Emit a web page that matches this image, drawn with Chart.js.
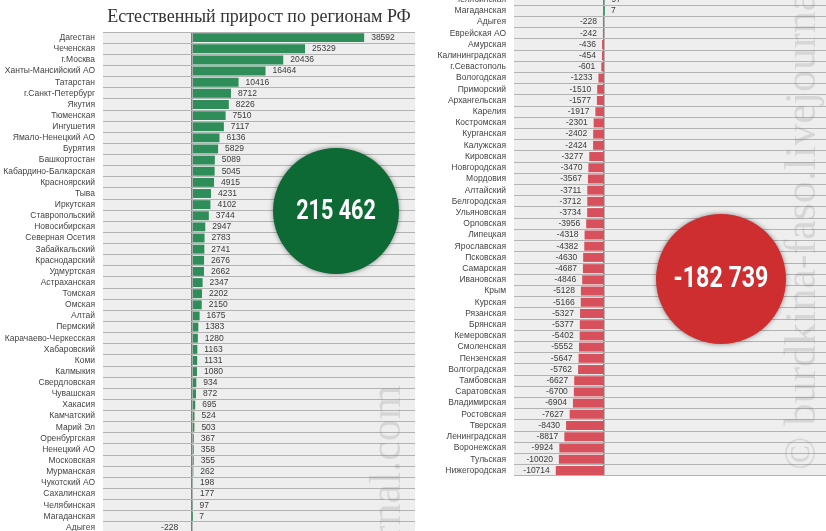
<!DOCTYPE html>
<html><head><meta charset="utf-8">
<script src="https://cdn.jsdelivr.net/npm/chart.js@4.4.1/dist/chart.umd.min.js"></script>
<style>
html,body{margin:0;padding:0;background:#fff;overflow:hidden;width:826px;height:531px;}
#wrap{position:relative;width:826px;height:531px;overflow:hidden;background:#fff;}
#c1{position:absolute;left:0;top:0;width:415px;height:533px;}
#c2{position:absolute;left:411px;top:-6px;width:418px;height:482px;}
</style></head><body>
<div id="wrap">
<canvas id="c1" width="415" height="533"></canvas>
<canvas id="c2" width="418" height="482"></canvas>
</div>
<script>
// ---------- DATA ----------
const chartTitle = 'Естественный прирост по регионам РФ';
const regions = [
 'Дагестан','Чеченская','г.Москва','Ханты-Мансийский АО','Татарстан','г.Санкт-Петербург','Якутия','Тюменская','Ингушетия','Ямало-Ненецкий АО',
 'Бурятия','Башкортостан','Кабардино-Балкарская','Красноярский','Тыва','Иркутская','Ставропольский','Новосибирская','Северная Осетия','Забайкальский',
 'Краснодарский','Удмуртская','Астраханская','Томская','Омская','Алтай','Пермский','Карачаево-Черкесская','Хабаровский','Коми',
 'Калмыкия','Свердловская','Чувашская','Хакасия','Камчатский','Марий Эл','Оренбургская','Ненецкий АО','Московская','Мурманская',
 'Чукотский АО','Сахалинская','Челябинская','Магаданская','Адыгея','Еврейская АО','Амурская','Калининградская','г.Севастополь','Вологодская',
 'Приморский','Архангельская','Карелия','Костромская','Курганская','Калужская','Кировская','Новгородская','Мордовия','Алтайский',
 'Белгородская','Ульяновская','Орловская','Липецкая','Ярославская','Псковская','Самарская','Ивановская','Крым','Курская',
 'Рязанская','Брянская','Кемеровская','Смоленская','Пензенская','Волгоградская','Тамбовская','Саратовская','Владимирская','Ростовская',
 'Тверская','Ленинградская','Воронежская','Тульская','Нижегородская'
];
const growth = [
 38592,25329,20436,16464,10416,8712,8226,7510,7117,6136,
 5829,5089,5045,4915,4231,4102,3744,2947,2783,2741,
 2676,2662,2347,2202,2150,1675,1383,1280,1163,1131,
 1080,934,872,695,524,503,367,358,355,262,
 198,177,97,7,-228,-242,-436,-454,-601,-1233,
 -1510,-1577,-1917,-2301,-2402,-2424,-3277,-3470,-3567,-3711,
 -3712,-3734,-3956,-4318,-4382,-4630,-4687,-4846,-5128,-5166,
 -5327,-5377,-5402,-5552,-5647,-5762,-6627,-6700,-6904,-7627,
 -8430,-8817,-9924,-10020,-10714
];
const xTicks = [-20000,-10000,0,10000,20000,30000,40000,50000];
const leftRows = [0, 45];   // Дагестан .. Адыгея
const rightRows = [42, 85]; // Челябинская .. Нижегородская

// ---------- HELPERS ----------
const fmt = n => String(n).replace(/\B(?=(\d{3})+(?!\d))/g, ' ');
const totalPos = growth.filter(v => v > 0).reduce((a, b) => a + b, 0);
const totalNeg = growth.filter(v => v < 0).reduce((a, b) => a + b, 0);

const GREEN = '#2e8d58', RED = '#d9505d';

const plotBg = {
  id: 'plotBg',
  beforeDraw(chart) {
    const a = chart.chartArea, ctx = chart.ctx;
    ctx.save(); ctx.fillStyle = '#eeeeee';
    ctx.fillRect(a.left, a.top, a.right - a.left, a.bottom - a.top);
    ctx.restore();
  }
};
const valueLabels = {
  id: 'valueLabels',
  afterDatasetsDraw(chart, args, o) {
    const ctx = chart.ctx, meta = chart.getDatasetMeta(0), data = chart.data.datasets[0].data;
    ctx.save();
    ctx.font = '8.5px "Liberation Sans", Arial, sans-serif';
    ctx.fillStyle = '#3a3a3a'; ctx.textBaseline = 'middle';
    meta.data.forEach((bar, i) => {
      const v = data[i];
      if (v >= 0) { ctx.textAlign = 'left'; ctx.fillText(String(v), bar.x + o.pos, bar.y); }
      else { ctx.textAlign = 'right'; ctx.fillText(String(v), bar.x - o.neg, bar.y); }
    });
    ctx.restore();
  }
};
const decor = {
  id: 'decor',
  afterDraw(chart, args, o) {
    const ctx = chart.ctx;
    ctx.save();
    ctx.shadowColor = 'rgba(0,0,0,0.45)'; ctx.shadowBlur = 5;
    ctx.fillStyle = o.color;
    ctx.beginPath(); ctx.arc(o.cx, o.cy, o.r, 0, Math.PI * 2); ctx.fill();
    ctx.restore();
    ctx.save();
    ctx.translate(o.cx, o.cy + 1); ctx.scale(0.8, 1);
    ctx.fillStyle = '#ffffff'; ctx.textAlign = 'center'; ctx.textBaseline = 'middle';
    ctx.font = 'bold ' + o.fs + 'px Roboto, "DejaVu Sans", sans-serif';
    ctx.fillText(o.text, 0, 0);
    ctx.restore();
    ctx.save();
    ctx.translate(o.wx, o.wy); ctx.rotate(-Math.PI / 2);
    ctx.font = '44px "Liberation Serif", "DejaVu Serif", serif';
    ctx.fillStyle = 'rgba(130,130,130,0.22)';
    ctx.textAlign = o.walign; ctx.textBaseline = 'alphabetic';
    ctx.fillText(o.wtext, 0, 0);
    ctx.restore();
  }
};

function makeChart(id, rows, withTitle, decorOpts, negOff) {
  const labels = regions.slice(rows[0], rows[1]);
  const data = growth.slice(rows[0], rows[1]);
  return new Chart(document.getElementById(id), {
    type: 'bar',
    data: {
      labels,
      datasets: [{
        data,
        backgroundColor: data.map(v => v >= 0 ? GREEN : RED),
        borderWidth: 0,
        barPercentage: 0.8,
        categoryPercentage: 1
      }]
    },
    options: {
      indexAxis: 'y',
      responsive: false,
      animation: false,
      layout: { padding: 0 },
      plugins: {
        legend: { display: false },
        tooltip: { enabled: false },
        title: {
          display: withTitle, text: chartTitle, fullSize: false,
          color: '#333', font: { family: '"Liberation Serif", "DejaVu Serif", serif', size: 18, weight: 'normal' },
          padding: { top: 6, bottom: 4.5 }
        },
        valueLabels: { pos: 7, neg: negOff },
        decor: decorOpts
      },
      scales: {
        x: {
          type: 'linear', min: xTicks[0], max: xTicks[xTicks.length - 1],
          afterBuildTicks: s => { s.ticks = xTicks.map(v => ({ value: v })); },
          ticks: { display: false },
          border: { display: false },
          grid: {
            drawTicks: false,
            color: c => (c.tick && c.tick.value === 0) ? '#7d7d7d' : 'rgba(0,0,0,0)',
            lineWidth: c => (c.tick && c.tick.value === 0) ? 1.5 : 0
          },
          afterFit: s => { s.height = 0; s.paddingLeft = 0; s.paddingRight = 0; s.paddingTop = 0; s.paddingBottom = 0; }
        },
        y: {
          type: 'category',
          border: { display: false },
          grid: { color: '#b3b3b3', lineWidth: 1, drawTicks: false, offset: true },
          ticks: {
            autoSkip: false, padding: 8, color: '#444',
            font: { family: '"Liberation Sans", Arial, sans-serif', size: 8.5 }
          },
          afterFit: s => { s.width = 103; s.paddingTop = 0; s.paddingBottom = 0; s.paddingLeft = 0; s.paddingRight = 0; }
        }
      }
    },
    plugins: [plotBg, valueLabels, decor]
  });
}

makeChart('c1', leftRows, true, {
  color: '#0d6a35', cx: 336, cy: 211, r: 63, fs: 27, text: fmt(totalPos),
  wx: 400, wy: 385, walign: 'right', wtext: 'burdkina-faso.livejournal.com'
}, 13);

makeChart('c2', rightRows, false, {
  color: '#cf2e30', cx: 310, cy: 285, r: 65, fs: 29, text: fmt(totalNeg),
  wx: 404, wy: 476, walign: 'left', wtext: '© burdkina-faso.livejournal.com'
}, 6);
</script>
</body></html>
